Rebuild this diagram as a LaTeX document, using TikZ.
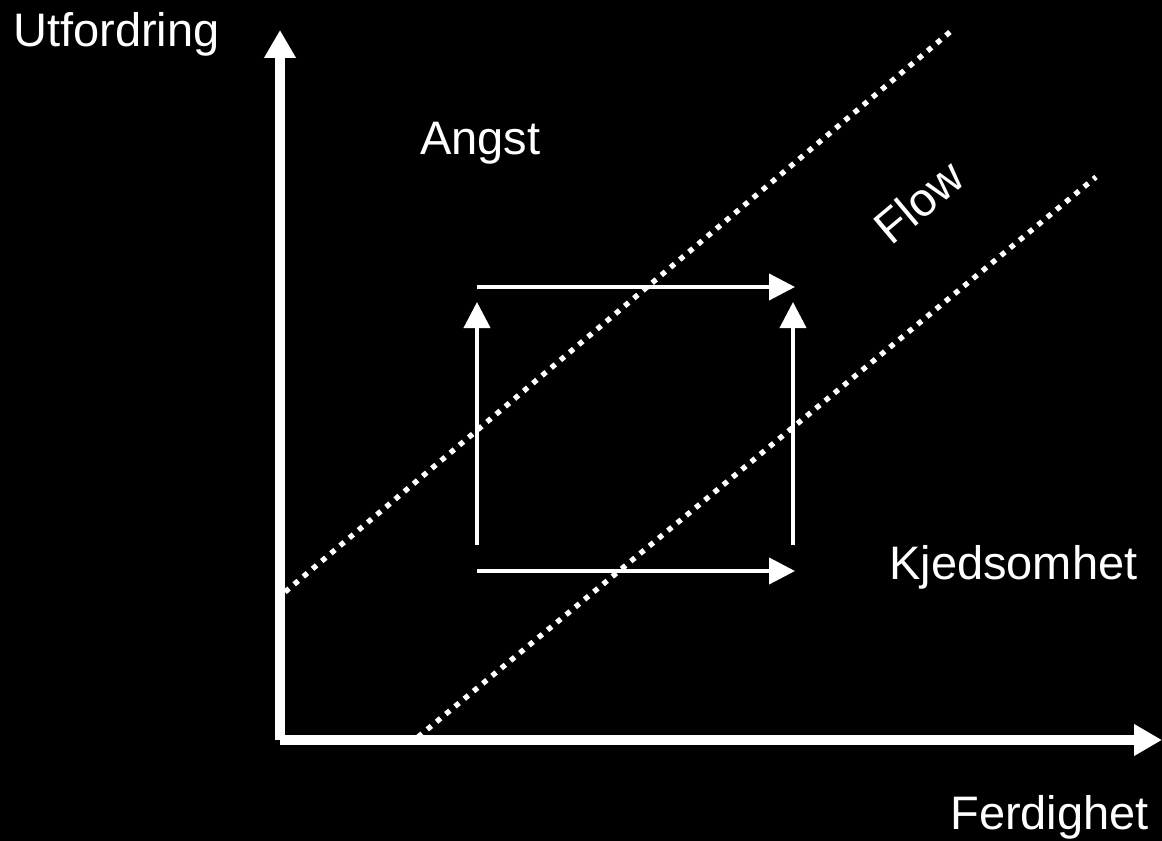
\documentclass[tikz,border=0pt]{standalone}
\usepackage{fontspec}
\setmainfont{Liberation Sans}
\usetikzlibrary{arrows.meta}
\tikzset{
  axis/.style={draw=white, line width=7.5pt, line cap=butt, -{Triangle[length=21pt,width=22.5pt]}},
  moveline/.style={draw=white, line width=3pt, line cap=butt, -{Triangle[length=19.5pt,width=19.5pt]}},
  border/.style={draw=white, line width=4pt, line cap=butt, dash pattern=on 4pt off 5pt},
  lbl/.style={text=white, inner sep=0pt, font=\fontsize{35.25}{42}\selectfont}
}
\begin{document}
\begin{tikzpicture}[x=0.75pt,y=-0.75pt]
\fill[black] (0,0) rectangle (1162,841);
\useasboundingbox (0,0) rectangle (1162,841);
% axes
\coordinate (O) at (280,740);
\coordinate (Ytop) at (280,30);
\coordinate (Xend) at (1162,740);
\draw[axis] (O) -- (Ytop);
\draw[axis] (O) -- (Xend);
% dotted boundaries
\coordinate (A1) at (285,592);
\coordinate (A2) at (950,32);
\coordinate (B1) at (418,737);
\coordinate (B2) at (1096,177);
\draw[border] (A1) -- (A2);
\draw[border] (B1) -- (B2);
% square arrows
\coordinate (TL) at (477,287);
\coordinate (TR) at (795,287);
\coordinate (BL) at (477,571);
\coordinate (BR) at (795,571);
\coordinate (LV1) at (477,545);
\coordinate (LV2) at (477,302);
\coordinate (RV1) at (793,545);
\coordinate (RV2) at (793,302);
\draw[moveline] (TL) -- (TR);
\draw[moveline] (BL) -- (BR);
\draw[moveline] (LV1) -- (LV2);
\draw[moveline] (RV1) -- (RV2);
% labels
\node[lbl, anchor=base west] (utf) at (13,47) {Utfordring};
\node[lbl, anchor=base west] (angst) at (420,155) {Angst};
\node[lbl, anchor=base west] (kjed) at (889,579) {Kjedsomhet};
\node[lbl, anchor=base west] (ferd) at (950,829) {Ferdighet};
\node[lbl, anchor=center, rotate=40] (flow) at (919,202) {Flow};
\end{tikzpicture}
\end{document}
